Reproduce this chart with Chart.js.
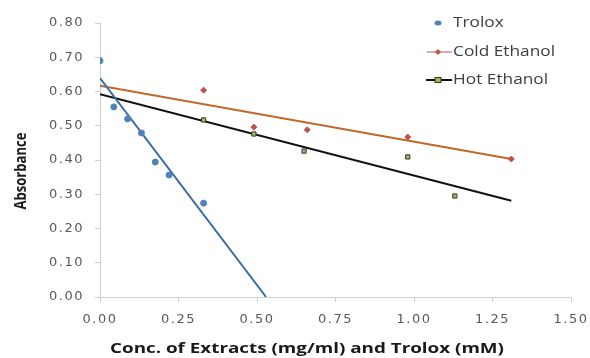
<!DOCTYPE html>
<html>
<head>
<meta charset="utf-8">
<script src="https://cdn.jsdelivr.net/npm/chart.js@4/dist/chart.umd.min.js"></script>
<style>
html,body{margin:0;padding:0;background:#fff;}
#wrap{position:relative;width:590px;height:358px;}
</style>
</head>
<body>
<div id="wrap"><canvas id="c" width="590" height="358"></canvas></div>
<script>
// ---- data ----
const troloxX = [0, 0.044, 0.088, 0.132, 0.176, 0.22, 0.33];
const troloxY = [0.69, 0.555, 0.52, 0.479, 0.394, 0.356, 0.274];
const coldX = [0.33, 0.49, 0.66, 0.98, 1.31];
const coldY = [0.604, 0.496, 0.488, 0.467, 0.403];
const hotX = [0.33, 0.49, 0.65, 0.98, 1.13];
const hotY = [0.517, 0.476, 0.426, 0.409, 0.295];
// trendline endpoints
const troloxTrendX = [0, 0.529];
const troloxTrendY = [0.639, 0];
const coldTrendX = [0, 1.31];
const coldTrendY = [0.617, 0.403];
const hotTrendX = [0, 1.31];
const hotTrendY = [0.592, 0.281];
const xTickValues = [0, 0.25, 0.5, 0.75, 1, 1.25, 1.5];
const yTickValues = [0, 0.1, 0.2, 0.3, 0.4, 0.5, 0.6, 0.7, 0.8];
const seriesNames = ['Trolox', 'Cold Ethanol', 'Hot Ethanol'];
const xTitle = 'Conc. of Extracts (mg/ml) and Trolox (mM)';
const yTitle = 'Absorbance';

const pts = (xs, ys) => xs.map((x, i) => ({x: x, y: ys[i]}));
const TICKFONT = '"DejaVu Sans", sans-serif';
const TEXTFONT = '"Open Sans", sans-serif';

const spacingPlugin = {
  id: 'spacing',
  beforeDraw(chart) { chart.ctx.letterSpacing = '1.5px'; },
  beforeDatasetsDraw(chart) { chart.ctx.letterSpacing = '0px'; }
};

const legendPlugin = {
  id: 'customLegend',
  afterDraw(chart) {
    const ctx = chart.ctx;
    ctx.save();
    ctx.letterSpacing = '0px';
    const tx = 453, mx = 438;
    const ys = [23, 52, 80];
    ctx.font = '14px ' + TEXTFONT;
    ctx.fillStyle = '#404040';
    ctx.textBaseline = 'middle';
    ctx.textAlign = 'left';
    const k = 102 / ctx.measureText(seriesNames[1]).width;
    seriesNames.forEach((n, i) => {
      ctx.save(); ctx.translate(tx, ys[i]); ctx.scale(k, 1); ctx.fillText(n, 0, 0); ctx.restore();
    });
    // Trolox marker
    ctx.fillStyle = '#4f81bd';
    ctx.beginPath(); ctx.ellipse(mx, ys[0], 3.5, 2.5, 0, 0, Math.PI * 2); ctx.fill();
    // Cold line + diamond
    ctx.strokeStyle = '#c0504d'; ctx.lineWidth = 1;
    ctx.beginPath(); ctx.moveTo(427, ys[1]); ctx.lineTo(452, ys[1]); ctx.stroke();
    ctx.fillStyle = '#c0504d';
    ctx.beginPath(); ctx.moveTo(mx, ys[1] - 3); ctx.lineTo(mx + 3, ys[1]); ctx.lineTo(mx, ys[1] + 3); ctx.lineTo(mx - 3, ys[1]); ctx.closePath(); ctx.fill();
    // Hot line + square
    ctx.strokeStyle = '#111'; ctx.lineWidth = 2;
    ctx.beginPath(); ctx.moveTo(426, ys[2]); ctx.lineTo(452, ys[2]); ctx.stroke();
    ctx.fillStyle = '#9bbb59'; ctx.strokeStyle = '#333'; ctx.lineWidth = 1;
    ctx.fillRect(mx - 3, ys[2] - 2.5, 6, 5); ctx.strokeRect(mx - 3, ys[2] - 2.5, 6, 5);
    // x axis title, fitted to the reference width
    ctx.fillStyle = '#1a1a1a';
    ctx.font = 'bold 14px ' + TEXTFONT;
    ctx.textAlign = 'center';
    const w = ctx.measureText(xTitle).width;
    ctx.save();
    ctx.translate(307, 349);
    ctx.scale(394 / w, 1);
    ctx.fillText(xTitle, 0, 0);
    ctx.restore();
    // y axis title
    ctx.font = 'bold 14px ' + TEXTFONT;
    ctx.translate(21, 171);
    ctx.rotate(-Math.PI / 2);
    const wy = ctx.measureText(yTitle).width;
    ctx.scale(77 / wy, 1.15);
    ctx.fillText(yTitle, 0, 0);
    ctx.restore();
  }
};

const axisColor = '#cfcfcf';
new Chart(document.getElementById('c'), {
  type: 'scatter',
  data: {
    datasets: [
      {label: seriesNames[0], data: pts(troloxX, troloxY), backgroundColor: '#4f81bd', borderColor: '#4f81bd', pointRadius: 3, pointStyle: 'circle', showLine: false},
      {label: seriesNames[1], data: pts(coldX, coldY), backgroundColor: '#c0504d', borderColor: '#c0504d', pointRadius: 3, pointStyle: 'rectRot', showLine: false},
      {label: seriesNames[2], data: pts(hotX, hotY), backgroundColor: '#9bbb59', borderColor: '#3a3a3a', borderWidth: 1, pointRadius: 3, pointStyle: 'rect', showLine: false},
      {label: 'Trolox trend', data: pts(troloxTrendX, troloxTrendY), showLine: true, borderColor: '#3d6ca8', borderWidth: 2, pointRadius: 0, fill: false},
      {label: 'Cold trend', data: pts(coldTrendX, coldTrendY), showLine: true, borderColor: '#c0682a', borderWidth: 2, pointRadius: 0, fill: false},
      {label: 'Hot trend', data: pts(hotTrendX, hotTrendY), showLine: true, borderColor: '#111111', borderWidth: 2, pointRadius: 0, fill: false}
    ]
  },
  options: {
    responsive: false,
    animation: false,
    layout: {padding: {left: 0, right: 19, top: 23, bottom: 0}},
    plugins: {legend: {display: false}, tooltip: {enabled: false}},
    scales: {
      x: {
        type: 'linear', min: 0, max: 1.5,
        afterFit: s => { s.height = 61; s.paddingLeft = 0; s.paddingRight = 0; },
        afterBuildTicks: s => { s.ticks = xTickValues.map(v => ({value: v})); },
        ticks: {callback: v => v.toFixed(2), color: '#595959', font: {size: 13, family: TICKFONT}, padding: 10, maxRotation: 0},
        grid: {drawOnChartArea: false, drawTicks: true, tickLength: 5, color: axisColor},
        border: {color: axisColor, width: 1}
      },
      y: {
        type: 'linear', min: 0, max: 0.8,
        afterFit: s => { s.width = 100; s.paddingTop = 0; s.paddingBottom = 0; },
        afterBuildTicks: s => { s.ticks = yTickValues.map(v => ({value: v})); },
        ticks: {callback: v => v.toFixed(2), color: '#595959', font: {size: 13, family: TICKFONT}, padding: 11},
        grid: {drawOnChartArea: false, drawTicks: true, tickLength: 5, color: axisColor},
        border: {color: axisColor, width: 1}
      }
    }
  },
  plugins: [spacingPlugin, legendPlugin]
});
</script>
</body>
</html>
